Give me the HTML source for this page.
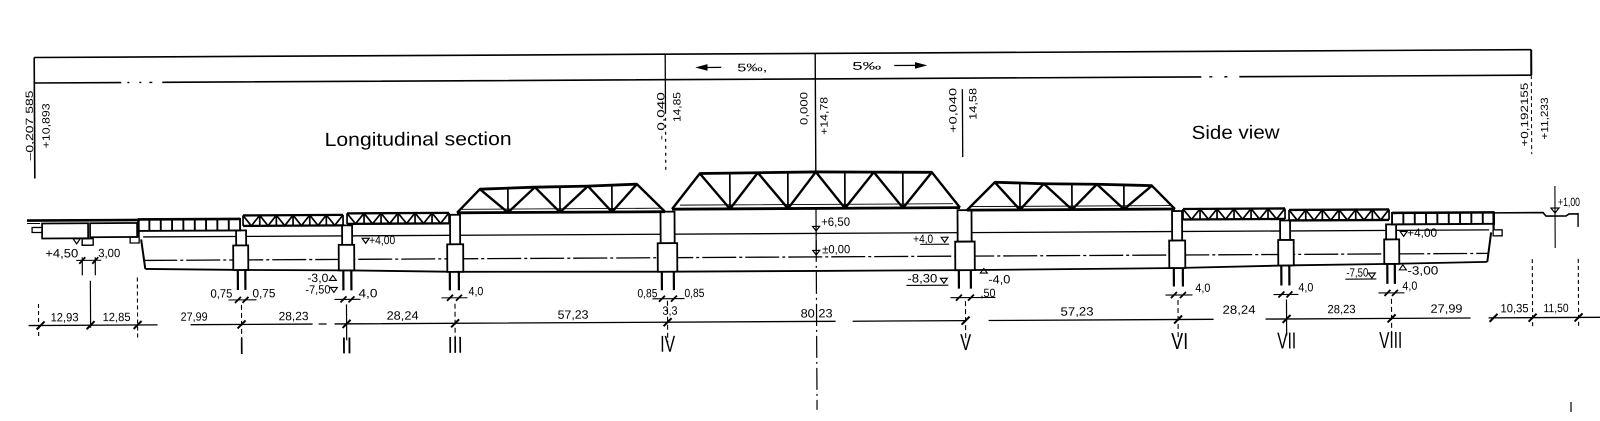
<!DOCTYPE html>
<html><head><meta charset="utf-8">
<style>
html,body{margin:0;padding:0;background:#fff;}
svg{display:block}
text{font-family:"Liberation Sans",sans-serif;fill:#000;stroke:none}
.s{font-size:12px}
.v{font-size:10.5px}
.r{font-family:"Liberation Serif",serif;font-size:23px}
.t{font-size:19px}
</style></head><body>
<svg width="1600" height="421" viewBox="0 0 1600 421" xmlns="http://www.w3.org/2000/svg">
<rect width="1600" height="421" fill="#fff"/>
<g transform="rotate(-0.3 800 210)">
<g stroke="#000" fill="none" stroke-linecap="butt">
<!-- frame -->
<path d="M35 53.5 H1532" stroke-width="1.6"/>
<path d="M35 79 H122 M163 79 H1202 M1240 79 H1532" stroke-width="1.6"/>
<path d="M128 79h2 M140 79h2 M150 79h3 M1210 79h3 M1225 79h3" stroke-width="1.4"/>
<path d="M35 53.5 V174.5" stroke-width="1.6"/>
<path d="M1532 53.5 V79" stroke-width="2"/>
<path d="M1532 79 V158" stroke-width="1" stroke-dasharray="4 3"/>
<path d="M666 53.5 V110" stroke-width="1.3"/>
<path d="M666 110 V169" stroke-width="1.2" stroke-dasharray="3 4"/>
<path d="M816 53.5 V172" stroke-width="1.4"/>
<path d="M816 208 V410" stroke-width="1.2" stroke-dasharray="22 4 2 4"/>
<path d="M963 90 V158" stroke-width="1.3"/>
<!-- gradient arrows -->
<path d="M705 67 H722" stroke-width="1.3"/>
<path d="M697 67 L708 64 V70 Z" fill="#000" stroke-width="0.5"/>
<path d="M895 66 H918" stroke-width="1.3"/>
<path d="M927 66 L916 63 V69 Z" fill="#000" stroke-width="0.5"/>

<!-- water / ground lines -->
<path d="M143 233.5 H1489" stroke-width="1.3"/>
<path d="M143 257 H1489" stroke-width="1.3" stroke-dasharray="34 3 3 3"/>
<polyline points="145,265.5 241,267 347,268 455,270 667,271 816,271 965,271 1177,270 1285,268 1391,267 1487,265.5" stroke-width="1.8"/>

<!-- left approach -->
<path d="M27 216.5 H139" stroke-width="2.6"/>
<path d="M27 219.5 H40" stroke-width="1"/>
<rect x="32" y="223.5" width="10" height="5" stroke-width="1.3"/>
<rect x="42" y="219.5" width="46" height="15" stroke-width="1.7"/>
<rect x="90" y="219.5" width="47" height="14" stroke-width="1.7"/>
<path d="M73 235 h7 l-3.5 5z" stroke-width="1.2"/>
<rect x="82" y="235" width="11" height="6.5" stroke-width="1.4"/>
<path d="M138.5 216 V233" stroke-width="2.2"/>
<path d="M141 236 L145 265.5" stroke-width="2"/>
<rect x="130" y="233.5" width="9" height="6" stroke-width="1.3"/>
<path d="M82 253.6 V271.6 M95 253.6 V271.6" stroke-width="1.2"/>
<path d="M76 256.6 H101" stroke-width="1.1"/>
<path d="M79 260 L85 253.5 M92 260 L98 253.5" stroke-width="1.8"/>

<!-- right end -->
<path d="M1494 216.5 H1543 L1546 220 H1566 L1569 218 H1578" stroke-width="1.6"/>
<path d="M1578 217 V231" stroke-width="1.4"/>
<path d="M1555 190 V252" stroke-width="1.1"/>
<path d="M1551 212 h8 l-4 5z" stroke-width="1.2"/>
<path d="M1493.5 216 V233" stroke-width="2.2"/>
<path d="M1491 236 L1487 265.5" stroke-width="2"/>
<rect x="1493" y="233.5" width="9" height="6" stroke-width="1.3"/>

<!-- piers (white filled) -->
<g fill="#fff" stroke-width="1.8">
<rect x="236" y="227.5" width="10" height="15"/><rect x="233" y="242.5" width="15" height="24.5"/>
<rect x="342" y="223" width="10" height="19.5"/><rect x="338.5" y="242.5" width="15.5" height="25.5"/>
<rect x="450" y="213" width="10" height="29.5"/><rect x="447" y="242.5" width="16" height="27.5"/>
<rect x="660.5" y="211" width="14" height="31.5"/><rect x="657.5" y="242.5" width="19.5" height="28.5"/>
<rect x="957.5" y="211" width="14" height="31.5"/><rect x="955" y="242.5" width="19.5" height="28.5"/>
<rect x="1172" y="213" width="10" height="29.5"/><rect x="1169" y="242.5" width="16" height="27.5"/>
<rect x="1280" y="223" width="10" height="19.5"/><rect x="1278" y="242.5" width="15.5" height="25.5"/>
<rect x="1386" y="227.5" width="10" height="15"/><rect x="1384" y="242.5" width="15" height="24.5"/>
</g>
<!-- piles -->
<path d="M237.5 267 V287 M245 267 V287 M343 268 V288 M351 268 V288 M449.5 270 V288.5 M458.5 270 V288.5 M661.5 271 V289.5 M673.5 271 V289.5 M958.5 271 V289.5 M970.5 271 V289.5 M1173.5 270 V288.5 M1182.5 270 V288.5 M1281 268 V288 M1289 268 V288 M1387 267 V287 M1394.5 267 V287" stroke-width="2.2"/>
<!-- pile tip dims -->
<path d="M228 297 H256 M334 297 H360 M441 296 H467 M652 298 H684 M950 298.5 H995 M1165 297 H1192 M1273 297 H1298 M1378 296 H1404" stroke-width="1.1"/>
<path d="M234.5 300 L240.5 294 M242 300 L248 294 M340 300 L346 294 M348 300 L354 294 M446.5 299 L452.5 293 M455.5 299 L461.5 293 M658.5 301 L664.5 295 M670.5 301 L676.5 295 M955.5 301.5 L961.5 295.5 M967.5 301.5 L973.5 295.5 M1170.5 300 L1176.5 294 M1179.5 300 L1185.5 294 M1278 300 L1284 294 M1286 300 L1292 294 M1384 299 L1390 293 M1391.5 299 L1397.5 293" stroke-width="1.8"/>

<!-- girder A and I (vierendeel) -->
<g stroke-width="1.9">
<rect x="138" y="216" width="102" height="11.5"/>
<path d="M149.3 216V227.5M160.7 216V227.5M172 216V227.5M183.3 216V227.5M194.7 216V227.5M206 216V227.5M217.3 216V227.5M228.7 216V227.5"/>
<rect x="1392" y="216" width="102" height="11.5"/>
<path d="M1482.7 216V227.5M1471.3 216V227.5M1460 216V227.5M1448.7 216V227.5M1437.3 216V227.5M1426 216V227.5M1414.7 216V227.5M1403.3 216V227.5"/>
</g>
<path d="M138 216 H240 M1392 216 H1494" stroke-width="2.6"/>

<!-- small trusses B, C, G, H -->
<path d="M243 212.5 H343 M243 223 H343 M347 211 H449 M347 221.5 H449 M1183 211 H1285 M1183 221.5 H1285 M1289 212.5 H1389 M1289 223 H1389" stroke-width="2.3"/>
<path d="M243 212.5V223M259.7 212.5V223M276.3 212.5V223M293 212.5V223M309.7 212.5V223M326.3 212.5V223M343 212.5V223 M347 211V221.5M364 211V221.5M381 211V221.5M398 211V221.5M415 211V221.5M432 211V221.5M449 211V221.5 M1285 211V221.5M1268 211V221.5M1251 211V221.5M1234 211V221.5M1217 211V221.5M1200 211V221.5M1183 211V221.5 M1389 212.5V223M1372.3 212.5V223M1355.7 212.5V223M1339 212.5V223M1322.3 212.5V223M1305.7 212.5V223M1289 212.5V223" stroke-width="1.7"/>
<g stroke-width="1.7" stroke-linejoin="miter">
<polyline points="243,212.5 251.3,223 259.7,212.5 268,223 276.3,212.5 284.7,223 293,212.5 301.3,223 309.7,212.5 318,223 326.3,212.5 334.7,223 343,212.5"/>
<polyline points="347,211 355.5,221.5 364,211 372.5,221.5 381,211 389.5,221.5 398,211 406.5,221.5 415,211 423.5,221.5 432,211 440.5,221.5 449,211"/>
<polyline points="1285,211 1276.5,221.5 1268,211 1259.5,221.5 1251,211 1242.5,221.5 1234,211 1225.5,221.5 1217,211 1208.5,221.5 1200,211 1191.5,221.5 1183,211"/>
<polyline points="1389,212.5 1380.7,223 1372.3,212.5 1364,223 1355.7,212.5 1347.3,223 1339,212.5 1330.7,223 1322.3,212.5 1314,223 1305.7,212.5 1297.3,223 1289,212.5"/>
</g>

<!-- big trusses D, E, F -->
<g stroke-linejoin="round">
<path d="M457 211 H665 M672 208.5 H960 M967 211 H1175" stroke-width="2.8"/>
<polyline points="480,187.5 535,185.8 588,185 637,183.3" stroke-width="2.8"/>
<polyline points="700,173 758,172.5 816,172 874,172.5 932,173" stroke-width="2.8"/>
<polyline points="995,183.3 1044,185 1097,185.8 1152,187.5" stroke-width="2.8"/>
<polyline points="457,211 480,187.5 508,211 535,185.8 560,211 588,185 612,211 637,183.3 665,211" stroke-width="2.4"/>
<polyline points="672,208.5 700,173 730,208.5 758,172.5 788,208.5 816,172 845,208.5 874,172.5 903,208.5 932,173 960,208.5" stroke-width="2.4"/>
<polyline points="967,211 995,183.3 1020,211 1044,185 1072,211 1097,185.8 1124,211 1152,187.5 1175,211" stroke-width="2.4"/>
<path d="M508 186.6V211M560 185.4V211M612 184.2V211 M730 172.5V208.5M788 172.2V208.5M845 172.2V208.5M903 172.5V208.5 M1020 184.2V211M1072 185.4V211M1124 186.6V211" stroke-width="1.7"/>
<path d="M462 207.5 H662 M680 204.5 H953 M970 207.5 H1170" stroke-width="0.9"/>
</g>

<!-- level marks -->
<path d="M362 236 h7 l-3.5 5z M1400 234.5 h7 l-3.5 5z" stroke-width="1.2"/>
<path d="M812.5 226.5 h7 l-3.5 4.5z M812.5 250.5 h7 l-3.5 4.5z" stroke-width="1.2"/>
<path d="M816 231 V250" stroke-width="1.2"/>
<path d="M941 238 h7 l-3.5 5z M920 245 H949" stroke-width="1.1"/>
<path d="M940 279 h7 l-3.5 5z M906 286 H948" stroke-width="1.1"/>
<path d="M980 274 h7 l-3.5 -4.5z" stroke-width="1.1"/>
<path d="M329 278 h7 l-3.5 -5z M330 285 h7 l-3.5 5z" stroke-width="1.1"/>
<path d="M1368 276 h7 l-3.5 5z M1345 282 H1376" stroke-width="1.1"/>
<path d="M1399 273 h7 l-3.5 -5z" stroke-width="1.1"/>

<!-- dimension line -->
<path d="M28 321.5 H157 M190 321.5 H312 M318 321.5 H326 M334 321.5 H835 M852 321.5 H966 M988 321.5 H1213 M1265 321.5 H1470 M1488 321.5 H1600" stroke-width="1.3"/>
<path d="M36 325.5 L44 317.5 M86 325.5 L94 317.5 M133 325.5 L141 317.5 M237 325.5 L245 317.5 M342 325.5 L350 317.5 M450.5 325.5 L458.5 317.5 M663 325.5 L671 317.5 M961 325.5 L969 317.5 M1173.5 325.5 L1181.5 317.5 M1282 325.5 L1290 317.5 M1387 325.5 L1395 317.5 M1489 325.5 L1497 317.5 M1528 325.5 L1536 317.5 M1574 325.5 L1582 317.5" stroke-width="2"/>
<path d="M38 300 V334 M137 274 V334 M1532 263 V332 M1578 263 V332" stroke-width="1.1" stroke-dasharray="4 3"/>
<path d="M90 277 V324" stroke-width="1.2"/>
<path d="M241 302 V340 M454.5 302 V340 M667 300 V342 M965 302 V340 M1177.5 302 V340 M1391 302 V338" stroke-width="1.1" stroke-dasharray="5 3"/>
<path d="M346 302 V338 M1286 302 V338" stroke-width="1.2"/>
</g>

<!-- texts -->
<text class="t" x="325" y="143.5" textLength="187" lengthAdjust="spacingAndGlyphs">Longitudinal section</text>
<text class="t" x="1192" y="141" textLength="88" lengthAdjust="spacingAndGlyphs">Side view</text>

<text class="v" transform="translate(33.5 156.4) rotate(-90)" textLength="70" lengthAdjust="spacingAndGlyphs">–0,207 585</text>
<text class="v" transform="translate(50 144.4) rotate(-90)" textLength="45" lengthAdjust="spacingAndGlyphs">+10,893</text>
<text class="v" transform="translate(665 139.4) rotate(-90)" textLength="48" lengthAdjust="spacingAndGlyphs">- 0,040</text>
<text class="v" transform="translate(681 121.4) rotate(-90)" textLength="30" lengthAdjust="spacingAndGlyphs">14,85</text>
<text class="v" transform="translate(808 125) rotate(-90)" textLength="33" lengthAdjust="spacingAndGlyphs">0,000</text>
<text class="v" transform="translate(828 135) rotate(-90)" textLength="38" lengthAdjust="spacingAndGlyphs">+14,78</text>
<text class="v" transform="translate(957 133.7) rotate(-90)" textLength="45" lengthAdjust="spacingAndGlyphs">+0,040</text>
<text class="v" transform="translate(977 120.8) rotate(-90)" textLength="32" lengthAdjust="spacingAndGlyphs">14,58</text>
<text class="v" transform="translate(1528.5 150.4) rotate(-90)" textLength="64" lengthAdjust="spacingAndGlyphs">+0,192155</text>
<text class="v" transform="translate(1548.5 143.4) rotate(-90)" textLength="42" lengthAdjust="spacingAndGlyphs">+11,233</text>

<text x="738" y="71" font-size="11" textLength="30" lengthAdjust="spacingAndGlyphs">5‰,</text>
<text x="853" y="70" font-size="11" textLength="29" lengthAdjust="spacingAndGlyphs">5‰</text>

<g class="s">
<text x="45" y="253.5" textLength="33" lengthAdjust="spacingAndGlyphs">+4,50</text>
<text x="98" y="253.5" textLength="22" lengthAdjust="spacingAndGlyphs">3,00</text>
<text x="369" y="242" textLength="26" lengthAdjust="spacingAndGlyphs">+4,00</text>
<text x="1407" y="240" textLength="30" lengthAdjust="spacingAndGlyphs">+4,00</text>
<text x="821" y="226" textLength="29" lengthAdjust="spacingAndGlyphs">+6,50</text>
<text x="822" y="253.5" textLength="28" lengthAdjust="spacingAndGlyphs">±0,00</text>
<text x="913" y="243.5" textLength="20" lengthAdjust="spacingAndGlyphs">+4,0</text>
<text x="907" y="283" textLength="30" lengthAdjust="spacingAndGlyphs">-8,30</text>
<text x="988" y="284.5" textLength="22" lengthAdjust="spacingAndGlyphs">-4,0</text>
<text x="980" y="298" textLength="15" lengthAdjust="spacingAndGlyphs">,50</text>
<text x="307" y="279.5" textLength="21" lengthAdjust="spacingAndGlyphs">-3,0</text>
<text x="305" y="291" textLength="25" lengthAdjust="spacingAndGlyphs">-7,50</text>
<text x="1346" y="279.5" textLength="22" lengthAdjust="spacingAndGlyphs">-7,50</text>
<text x="1407" y="277.8" textLength="31" lengthAdjust="spacingAndGlyphs">-3,00</text>
<text x="1558" y="210" textLength="22" lengthAdjust="spacingAndGlyphs">+1,00</text>
<text x="210" y="294.5" textLength="22" lengthAdjust="spacingAndGlyphs">0,75</text>
<text x="252" y="294.5" textLength="23" lengthAdjust="spacingAndGlyphs">0,75</text>
<text x="358" y="295" textLength="19" lengthAdjust="spacingAndGlyphs">4,0</text>
<text x="468" y="293.5" textLength="15" lengthAdjust="spacingAndGlyphs">4,0</text>
<text x="637" y="296.5" textLength="20" lengthAdjust="spacingAndGlyphs">0,85</text>
<text x="684" y="296.5" textLength="20" lengthAdjust="spacingAndGlyphs">0,85</text>
<text x="662" y="314" textLength="15" lengthAdjust="spacingAndGlyphs">3,3</text>
<text x="1195" y="294" textLength="15" lengthAdjust="spacingAndGlyphs">4,0</text>
<text x="1298" y="294" textLength="15" lengthAdjust="spacingAndGlyphs">4,0</text>
<text x="1402" y="293" textLength="15" lengthAdjust="spacingAndGlyphs">4,0</text>

<text x="50" y="317.5" textLength="28" lengthAdjust="spacingAndGlyphs">12,93</text>
<text x="102" y="317.5" textLength="28" lengthAdjust="spacingAndGlyphs">12,85</text>
<text x="180" y="317.5" textLength="27" lengthAdjust="spacingAndGlyphs">27,99</text>
<text x="278" y="317.5" textLength="30" lengthAdjust="spacingAndGlyphs">28,23</text>
<text x="386" y="317.5" textLength="32" lengthAdjust="spacingAndGlyphs">28,24</text>
<text x="557" y="317.5" textLength="31" lengthAdjust="spacingAndGlyphs">57,23</text>
<text x="800" y="317.5" textLength="32" lengthAdjust="spacingAndGlyphs">80,23</text>
<text x="1060" y="317" textLength="33" lengthAdjust="spacingAndGlyphs">57,23</text>
<text x="1222" y="316" textLength="33" lengthAdjust="spacingAndGlyphs">28,24</text>
<text x="1327" y="316" textLength="28" lengthAdjust="spacingAndGlyphs">28,23</text>
<text x="1430" y="316" textLength="32" lengthAdjust="spacingAndGlyphs">27,99</text>
<text x="1500" y="316" textLength="28" lengthAdjust="spacingAndGlyphs">10,35</text>
<text x="1543" y="316" textLength="25" lengthAdjust="spacingAndGlyphs">11,50</text>
</g>

<g class="r" text-anchor="middle">
<text x="241" y="351" textLength="5" lengthAdjust="spacingAndGlyphs">I</text>
<text x="346" y="351" textLength="11" lengthAdjust="spacingAndGlyphs">II</text>
<text x="454.5" y="351" textLength="15" lengthAdjust="spacingAndGlyphs">III</text>
<text x="667" y="351" textLength="15" lengthAdjust="spacingAndGlyphs">IV</text>
<text x="965" y="351" textLength="11" lengthAdjust="spacingAndGlyphs">V</text>
<text x="1179" y="351" textLength="17" lengthAdjust="spacingAndGlyphs">VI</text>
<text x="1286" y="351" textLength="19" lengthAdjust="spacingAndGlyphs">VII</text>
<text x="1390" y="351" textLength="23" lengthAdjust="spacingAndGlyphs">VIII</text>
</g>
</g>
<path d="M1571 402 V412" stroke="#000" stroke-width="1.2"/>
</svg>
</body></html>
